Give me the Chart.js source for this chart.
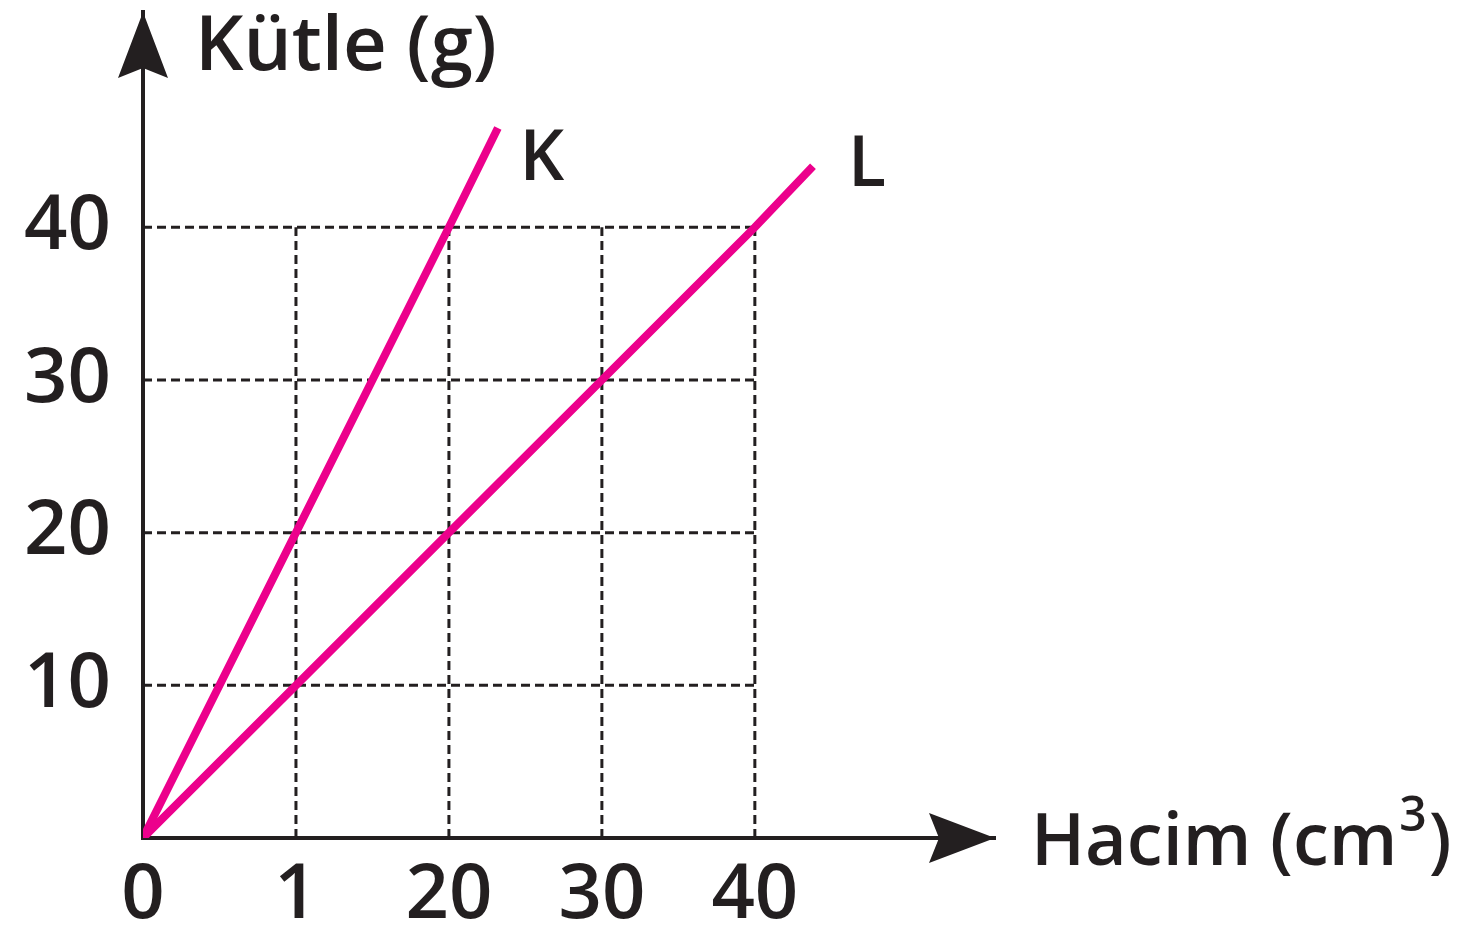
<!DOCTYPE html>
<html>
<head>
<meta charset="utf-8">
<script src="https://cdn.jsdelivr.net/npm/chart.js@4/dist/chart.umd.min.js"></script>
<style>
html,body{margin:0;padding:0;background:#fff;}
#wrap{width:1462px;height:931px;position:relative;}
</style>
</head>
<body>
<div id="wrap"><canvas id="c" width="1462" height="931"></canvas></div>
<script>
// ---- data ----
const kVolume = [0, 10, 20, 23.2];
const kMass   = [0, 20, 40, 46.5];
const lVolume = [0, 10, 20, 30, 40, 43.8];
const lMass   = [0, 10, 20, 30, 40, 44.0];
const xTickValues = [0, 10, 20, 30, 40];
const xTickLabels = ['0', '1', '20', '30', '40'];
const yTickValues = [10, 20, 30, 40];
const yTickLabels = ['10', '20', '30', '40'];
const gridValues = [10, 20, 30, 40];
const seriesNames = ['K', 'L'];
const xTitle = 'Hacim (cm';
const xTitleSup = '3';
const yTitle = 'Kütle (g)';

const INK = '#231f20';
const MAGENTA = '#ec008c';
const FONT = '"Open Sans", sans-serif';

const toPts = (xs, ys) => xs.map((x, i) => ({x: x, y: ys[i]}));

const gridMax = gridValues[gridValues.length - 1];
const gridSets = [];
gridValues.forEach(v => {
  gridSets.push({data: [{x: v, y: 0}, {x: v, y: gridMax}]});
  gridSets.push({data: [{x: 0, y: v}, {x: gridMax, y: v}]});
});

const datasets = [
  {label: seriesNames[0], data: toPts(kVolume, kMass), borderColor: MAGENTA, borderWidth: 8, order: 0, borderCapStyle: 'butt'},
  {label: seriesNames[1], data: toPts(lVolume, lMass), borderColor: MAGENTA, borderWidth: 8, order: 0, borderCapStyle: 'butt'}
].concat(gridSets.map(g => ({
  label: 'grid', data: g.data, borderColor: INK, borderWidth: 3, borderDash: [9, 5], order: 1
})));

const decor = {
  id: 'decor',
  afterDatasetsDraw(chart) {
    const ctx = chart.ctx;
    const a = chart.chartArea;
    const xs = chart.scales.x, ys = chart.scales.y;
    const ox = xs.getPixelForValue(0), oy = ys.getPixelForValue(0);
    ctx.save();
    ctx.fillStyle = INK;
    // y arrow
    ctx.beginPath();
    ctx.moveTo(ox, a.top);
    ctx.lineTo(ox - 25, a.top + 66);
    ctx.lineTo(ox, a.top + 56);
    ctx.lineTo(ox + 25, a.top + 66);
    ctx.closePath();
    ctx.fill();
    // x arrow
    ctx.beginPath();
    ctx.moveTo(a.right, oy);
    ctx.lineTo(a.right - 66, oy - 25);
    ctx.lineTo(a.right - 56, oy);
    ctx.lineTo(a.right - 66, oy + 25);
    ctx.closePath();
    ctx.fill();
    // titles
    ctx.textBaseline = 'alphabetic';
    ctx.textAlign = 'left';
    ctx.font = '600 76px ' + FONT;
    ctx.fillText(yTitle, ox + 52, a.top + 58);
    const tx = a.right + 36, ty = oy + 27;
    ctx.font = '600 72px ' + FONT;
    ctx.fillText(xTitle, tx, ty);
    let w = ctx.measureText(xTitle).width;
    ctx.font = '600 48px ' + FONT;
    ctx.fillText(xTitleSup, tx + w + 2, ty - 34);
    const w2 = ctx.measureText(xTitleSup).width;
    ctx.font = '600 72px ' + FONT;
    ctx.fillText(')', tx + w + w2 + 4, ty);
    // series labels
    ctx.font = '600 70px ' + FONT;
    ctx.textAlign = 'center';
    ctx.textBaseline = 'middle';
    const offs = [[44, 32], [54, 0]];
    [0, 1].forEach(i => {
      const meta = chart.getDatasetMeta(i);
      const last = meta.data[meta.data.length - 1];
      ctx.fillText(seriesNames[i], last.x + offs[i][0], last.y + offs[i][1]);
    });
    ctx.restore();
  }
};

new Chart(document.getElementById('c'), {
  type: 'line',
  data: {datasets: datasets},
  options: {
    responsive: false,
    animation: false,
    events: [],
    layout: {padding: {top: 12, right: 467, left: 0, bottom: 0}},
    elements: {point: {radius: 0}, line: {tension: 0}},
    plugins: {legend: {display: false}, tooltip: {enabled: false}, title: {display: false}},
    scales: {
      x: {
        type: 'linear', min: 0, max: 55.7,
        grid: {display: false, drawTicks: false},
        border: {display: true, color: INK, width: 4},
        afterBuildTicks: s => { s.ticks = xTickValues.map(v => ({value: v})); },
        afterFit: s => { s.height = 93; s.paddingLeft = 0; s.paddingRight = 0; },
        ticks: {
          padding: 20, color: INK, maxRotation: 0, autoSkip: false,
          font: {family: FONT, size: 76, weight: '600', lineHeight: 1},
          callback: (v, i) => xTickLabels[i]
        }
      },
      y: {
        type: 'linear', min: 0, max: 54.1,
        grid: {display: false, drawTicks: false},
        border: {display: true, color: INK, width: 4},
        afterBuildTicks: s => { s.ticks = yTickValues.map(v => ({value: v})); },
        afterFit: s => { s.width = 143; s.paddingTop = 0; s.paddingBottom = 0; },
        ticks: {
          padding: 32, color: INK, autoSkip: false,
          font: {family: FONT, size: 76, weight: '600', lineHeight: 1},
          callback: (v, i) => yTickLabels[i]
        }
      }
    }
  },
  plugins: [decor]
});
</script>
</body>
</html>
